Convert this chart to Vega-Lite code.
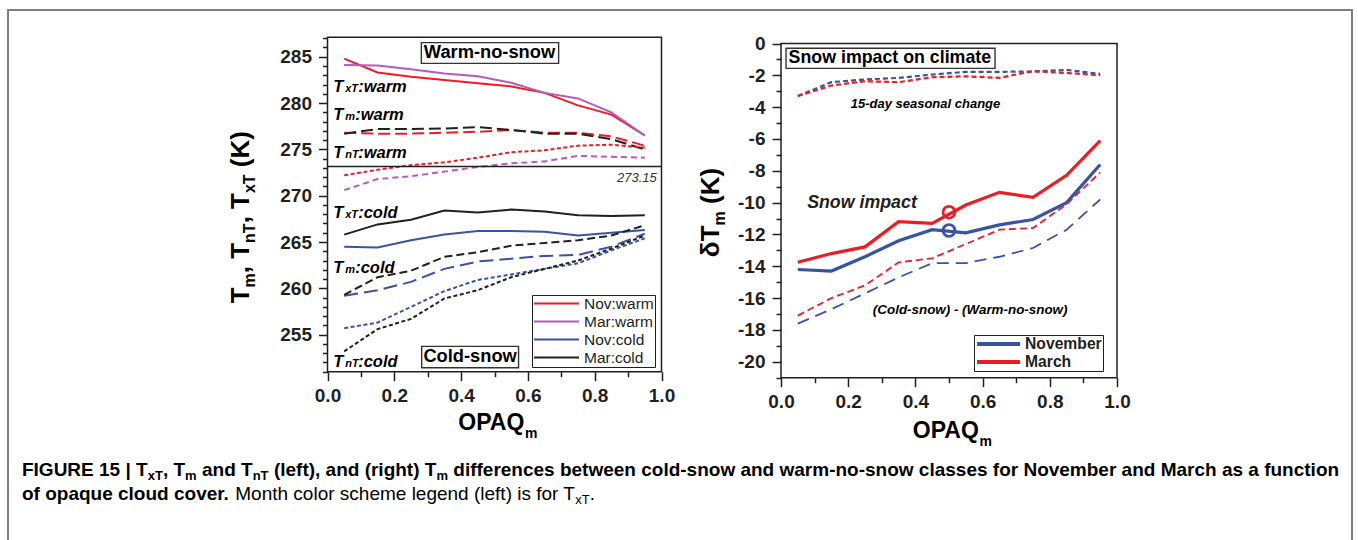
{
  "$schema": "https://vega.github.io/schema/vega-lite/v6.json",
  "background": "white",
  "autosize": {"type": "none"},
  "padding": {"left": 8, "top": 10, "right": 6, "bottom": 0},
  "width": 1344,
  "height": 535,
  "config": {
    "view": {"stroke": "#808080", "strokeWidth": 2},
    "axis": {"domain": false, "grid": false, "tickColor": "#231f20", "tickWidth": 1.5, "labelFont": "Liberation Sans", "labelFontWeight": "bold", "labelFontSize": 19, "labelColor": "#231f20", "labelFlush": false, "labelOverlap": false},
    "style": {
      "lb": {"font": "Liberation Sans", "fontWeight": "bold", "fontStyle": "italic", "fontSize": 16.5, "fill": "#231f20", "align": "left", "baseline": "alphabetic"},
      "lbs": {"font": "Liberation Sans", "fontWeight": "bold", "fontStyle": "italic", "fontSize": 11, "fill": "#231f20", "align": "left", "baseline": "alphabetic"},
      "bt": {"font": "Liberation Sans", "fontWeight": "bold", "fontSize": 18.3, "fill": "#231f20", "align": "center", "baseline": "middle"},
      "note": {"font": "Liberation Sans", "fontWeight": "bold", "fontStyle": "italic", "fontSize": 13, "fill": "#333333", "align": "center", "baseline": "middle"},
      "tt": {"font": "Liberation Sans", "fontWeight": "bold", "fontSize": 26, "fill": "#231f20", "align": "left", "baseline": "alphabetic", "angle": 270},
      "tts": {"font": "Liberation Sans", "fontWeight": "bold", "fontSize": 16, "fill": "#231f20", "align": "left", "baseline": "alphabetic", "angle": 270},
      "xt": {"font": "Liberation Sans", "fontWeight": "bold", "fontSize": 23, "fill": "#231f20", "align": "right", "baseline": "alphabetic"},
      "xts": {"font": "Liberation Sans", "fontWeight": "bold", "fontSize": 14, "fill": "#231f20", "align": "left", "baseline": "alphabetic"},
      "cp": {"font": "Liberation Sans", "fontWeight": "bold", "fontSize": 19, "fill": "#231f20", "align": "left", "baseline": "alphabetic"},
      "cps": {"font": "Liberation Sans", "fontWeight": "bold", "fontSize": 13, "fill": "#231f20", "align": "left", "baseline": "alphabetic"},
      "cpn": {"font": "Liberation Sans", "fontWeight": "normal", "fontSize": 19, "fill": "#231f20", "align": "left", "baseline": "alphabetic"},
      "cpns": {"font": "Liberation Sans", "fontWeight": "normal", "fontSize": 13, "fill": "#231f20", "align": "left", "baseline": "alphabetic"}
    }
  },
  "datasets": {
    "temps": [
      {"x": 0.05, "v": 284.8, "s": "TxT", "g": "Nov:warm"}, {"x": 0.15, "v": 283.3, "s": "TxT", "g": "Nov:warm"}, {"x": 0.25, "v": 282.85, "s": "TxT", "g": "Nov:warm"}, {"x": 0.35, "v": 282.5, "s": "TxT", "g": "Nov:warm"}, {"x": 0.45, "v": 282.15, "s": "TxT", "g": "Nov:warm"}, {"x": 0.55, "v": 281.8, "s": "TxT", "g": "Nov:warm"}, {"x": 0.65, "v": 281.1, "s": "TxT", "g": "Nov:warm"}, {"x": 0.75, "v": 279.75, "s": "TxT", "g": "Nov:warm"}, {"x": 0.85, "v": 278.75, "s": "TxT", "g": "Nov:warm"}, {"x": 0.95, "v": 276.5, "s": "TxT", "g": "Nov:warm"},
      {"x": 0.05, "v": 284.1, "s": "TxT", "g": "Mar:warm"}, {"x": 0.15, "v": 284.05, "s": "TxT", "g": "Mar:warm"}, {"x": 0.25, "v": 283.65, "s": "TxT", "g": "Mar:warm"}, {"x": 0.35, "v": 283.2, "s": "TxT", "g": "Mar:warm"}, {"x": 0.45, "v": 282.9, "s": "TxT", "g": "Mar:warm"}, {"x": 0.55, "v": 282.2, "s": "TxT", "g": "Mar:warm"}, {"x": 0.65, "v": 281.1, "s": "TxT", "g": "Mar:warm"}, {"x": 0.75, "v": 280.5, "s": "TxT", "g": "Mar:warm"}, {"x": 0.85, "v": 279.0, "s": "TxT", "g": "Mar:warm"}, {"x": 0.95, "v": 276.5, "s": "TxT", "g": "Mar:warm"},
      {"x": 0.05, "v": 264.5, "s": "TxT", "g": "Nov:cold"}, {"x": 0.15, "v": 264.4, "s": "TxT", "g": "Nov:cold"}, {"x": 0.25, "v": 265.2, "s": "TxT", "g": "Nov:cold"}, {"x": 0.35, "v": 265.8, "s": "TxT", "g": "Nov:cold"}, {"x": 0.45, "v": 266.2, "s": "TxT", "g": "Nov:cold"}, {"x": 0.55, "v": 266.2, "s": "TxT", "g": "Nov:cold"}, {"x": 0.65, "v": 266.1, "s": "TxT", "g": "Nov:cold"}, {"x": 0.75, "v": 265.7, "s": "TxT", "g": "Nov:cold"}, {"x": 0.85, "v": 266.0, "s": "TxT", "g": "Nov:cold"}, {"x": 0.95, "v": 266.3, "s": "TxT", "g": "Nov:cold"},
      {"x": 0.05, "v": 265.8, "s": "TxT", "g": "Mar:cold"}, {"x": 0.15, "v": 266.9, "s": "TxT", "g": "Mar:cold"}, {"x": 0.25, "v": 267.4, "s": "TxT", "g": "Mar:cold"}, {"x": 0.35, "v": 268.4, "s": "TxT", "g": "Mar:cold"}, {"x": 0.45, "v": 268.2, "s": "TxT", "g": "Mar:cold"}, {"x": 0.55, "v": 268.5, "s": "TxT", "g": "Mar:cold"}, {"x": 0.65, "v": 268.3, "s": "TxT", "g": "Mar:cold"}, {"x": 0.75, "v": 267.9, "s": "TxT", "g": "Mar:cold"}, {"x": 0.85, "v": 267.8, "s": "TxT", "g": "Mar:cold"}, {"x": 0.95, "v": 267.9, "s": "TxT", "g": "Mar:cold"},
      {"x": 0.05, "v": 276.8, "s": "Tm", "g": "Nov:warm"}, {"x": 0.15, "v": 276.7, "s": "Tm", "g": "Nov:warm"}, {"x": 0.25, "v": 276.7, "s": "Tm", "g": "Nov:warm"}, {"x": 0.35, "v": 276.8, "s": "Tm", "g": "Nov:warm"}, {"x": 0.45, "v": 276.9, "s": "Tm", "g": "Nov:warm"}, {"x": 0.55, "v": 277.1, "s": "Tm", "g": "Nov:warm"}, {"x": 0.65, "v": 276.8, "s": "Tm", "g": "Nov:warm"}, {"x": 0.75, "v": 276.8, "s": "Tm", "g": "Nov:warm"}, {"x": 0.85, "v": 276.4, "s": "Tm", "g": "Nov:warm"}, {"x": 0.95, "v": 275.4, "s": "Tm", "g": "Nov:warm"},
      {"x": 0.05, "v": 276.7, "s": "Tm", "g": "Mar:warm"}, {"x": 0.15, "v": 277.2, "s": "Tm", "g": "Mar:warm"}, {"x": 0.25, "v": 277.2, "s": "Tm", "g": "Mar:warm"}, {"x": 0.35, "v": 277.25, "s": "Tm", "g": "Mar:warm"}, {"x": 0.45, "v": 277.4, "s": "Tm", "g": "Mar:warm"}, {"x": 0.55, "v": 277.1, "s": "Tm", "g": "Mar:warm"}, {"x": 0.65, "v": 276.7, "s": "Tm", "g": "Mar:warm"}, {"x": 0.75, "v": 276.7, "s": "Tm", "g": "Mar:warm"}, {"x": 0.85, "v": 276.1, "s": "Tm", "g": "Mar:warm"}, {"x": 0.95, "v": 275.0, "s": "Tm", "g": "Mar:warm"},
      {"x": 0.05, "v": 259.2, "s": "Tm", "g": "Nov:cold"}, {"x": 0.15, "v": 259.8, "s": "Tm", "g": "Nov:cold"}, {"x": 0.25, "v": 260.7, "s": "Tm", "g": "Nov:cold"}, {"x": 0.35, "v": 262.1, "s": "Tm", "g": "Nov:cold"}, {"x": 0.45, "v": 262.9, "s": "Tm", "g": "Nov:cold"}, {"x": 0.55, "v": 263.2, "s": "Tm", "g": "Nov:cold"}, {"x": 0.65, "v": 263.5, "s": "Tm", "g": "Nov:cold"}, {"x": 0.75, "v": 263.6, "s": "Tm", "g": "Nov:cold"}, {"x": 0.85, "v": 264.5, "s": "Tm", "g": "Nov:cold"}, {"x": 0.95, "v": 265.9, "s": "Tm", "g": "Nov:cold"},
      {"x": 0.05, "v": 259.3, "s": "Tm", "g": "Mar:cold"}, {"x": 0.15, "v": 261.2, "s": "Tm", "g": "Mar:cold"}, {"x": 0.25, "v": 261.9, "s": "Tm", "g": "Mar:cold"}, {"x": 0.35, "v": 263.4, "s": "Tm", "g": "Mar:cold"}, {"x": 0.45, "v": 263.9, "s": "Tm", "g": "Mar:cold"}, {"x": 0.55, "v": 264.6, "s": "Tm", "g": "Mar:cold"}, {"x": 0.65, "v": 264.9, "s": "Tm", "g": "Mar:cold"}, {"x": 0.75, "v": 265.2, "s": "Tm", "g": "Mar:cold"}, {"x": 0.85, "v": 265.7, "s": "Tm", "g": "Mar:cold"}, {"x": 0.95, "v": 266.8, "s": "Tm", "g": "Mar:cold"},
      {"x": 0.05, "v": 272.2, "s": "TnT", "g": "Nov:warm"}, {"x": 0.15, "v": 272.8, "s": "TnT", "g": "Nov:warm"}, {"x": 0.25, "v": 273.3, "s": "TnT", "g": "Nov:warm"}, {"x": 0.35, "v": 273.6, "s": "TnT", "g": "Nov:warm"}, {"x": 0.45, "v": 274.1, "s": "TnT", "g": "Nov:warm"}, {"x": 0.55, "v": 274.7, "s": "TnT", "g": "Nov:warm"}, {"x": 0.65, "v": 274.9, "s": "TnT", "g": "Nov:warm"}, {"x": 0.75, "v": 275.4, "s": "TnT", "g": "Nov:warm"}, {"x": 0.85, "v": 275.5, "s": "TnT", "g": "Nov:warm"}, {"x": 0.95, "v": 275.2, "s": "TnT", "g": "Nov:warm"},
      {"x": 0.05, "v": 270.6, "s": "TnT", "g": "Mar:warm"}, {"x": 0.15, "v": 271.8, "s": "TnT", "g": "Mar:warm"}, {"x": 0.25, "v": 272.1, "s": "TnT", "g": "Mar:warm"}, {"x": 0.35, "v": 272.6, "s": "TnT", "g": "Mar:warm"}, {"x": 0.45, "v": 273.1, "s": "TnT", "g": "Mar:warm"}, {"x": 0.55, "v": 273.5, "s": "TnT", "g": "Mar:warm"}, {"x": 0.65, "v": 273.7, "s": "TnT", "g": "Mar:warm"}, {"x": 0.75, "v": 274.3, "s": "TnT", "g": "Mar:warm"}, {"x": 0.85, "v": 274.2, "s": "TnT", "g": "Mar:warm"}, {"x": 0.95, "v": 274.1, "s": "TnT", "g": "Mar:warm"},
      {"x": 0.05, "v": 255.7, "s": "TnT", "g": "Nov:cold"}, {"x": 0.15, "v": 256.3, "s": "TnT", "g": "Nov:cold"}, {"x": 0.25, "v": 258.0, "s": "TnT", "g": "Nov:cold"}, {"x": 0.35, "v": 259.7, "s": "TnT", "g": "Nov:cold"}, {"x": 0.45, "v": 260.9, "s": "TnT", "g": "Nov:cold"}, {"x": 0.55, "v": 261.5, "s": "TnT", "g": "Nov:cold"}, {"x": 0.65, "v": 262.1, "s": "TnT", "g": "Nov:cold"}, {"x": 0.75, "v": 262.7, "s": "TnT", "g": "Nov:cold"}, {"x": 0.85, "v": 264.1, "s": "TnT", "g": "Nov:cold"}, {"x": 0.95, "v": 265.4, "s": "TnT", "g": "Nov:cold"},
      {"x": 0.05, "v": 253.2, "s": "TnT", "g": "Mar:cold"}, {"x": 0.15, "v": 255.6, "s": "TnT", "g": "Mar:cold"}, {"x": 0.25, "v": 256.7, "s": "TnT", "g": "Mar:cold"}, {"x": 0.35, "v": 258.9, "s": "TnT", "g": "Mar:cold"}, {"x": 0.45, "v": 259.8, "s": "TnT", "g": "Mar:cold"}, {"x": 0.55, "v": 261.2, "s": "TnT", "g": "Mar:cold"}, {"x": 0.65, "v": 262.1, "s": "TnT", "g": "Mar:cold"}, {"x": 0.75, "v": 263.0, "s": "TnT", "g": "Mar:cold"}, {"x": 0.85, "v": 264.3, "s": "TnT", "g": "Mar:cold"}, {"x": 0.95, "v": 265.7, "s": "TnT", "g": "Mar:cold"}
    ],
    "deltas": [
      {"x": 0.05, "v": -3.3, "k": "seasonal", "m": "November"}, {"x": 0.15, "v": -2.43, "k": "seasonal", "m": "November"}, {"x": 0.25, "v": -2.26, "k": "seasonal", "m": "November"}, {"x": 0.35, "v": -2.16, "k": "seasonal", "m": "November"}, {"x": 0.45, "v": -1.95, "k": "seasonal", "m": "November"}, {"x": 0.55, "v": -1.78, "k": "seasonal", "m": "November"}, {"x": 0.65, "v": -1.78, "k": "seasonal", "m": "November"}, {"x": 0.75, "v": -1.76, "k": "seasonal", "m": "November"}, {"x": 0.85, "v": -1.66, "k": "seasonal", "m": "November"}, {"x": 0.95, "v": -1.91, "k": "seasonal", "m": "November"},
      {"x": 0.05, "v": -3.3, "k": "seasonal", "m": "March"}, {"x": 0.15, "v": -2.64, "k": "seasonal", "m": "March"}, {"x": 0.25, "v": -2.37, "k": "seasonal", "m": "March"}, {"x": 0.35, "v": -2.43, "k": "seasonal", "m": "March"}, {"x": 0.45, "v": -2.12, "k": "seasonal", "m": "March"}, {"x": 0.55, "v": -2.06, "k": "seasonal", "m": "March"}, {"x": 0.65, "v": -2.16, "k": "seasonal", "m": "March"}, {"x": 0.75, "v": -1.74, "k": "seasonal", "m": "March"}, {"x": 0.85, "v": -1.85, "k": "seasonal", "m": "March"}, {"x": 0.95, "v": -1.99, "k": "seasonal", "m": "March"},
      {"x": 0.05, "v": -14.2, "k": "impact", "m": "November"}, {"x": 0.15, "v": -14.3, "k": "impact", "m": "November"}, {"x": 0.25, "v": -13.4, "k": "impact", "m": "November"}, {"x": 0.35, "v": -12.4, "k": "impact", "m": "November"}, {"x": 0.45, "v": -11.7, "k": "impact", "m": "November"}, {"x": 0.55, "v": -11.9, "k": "impact", "m": "November"}, {"x": 0.65, "v": -11.4, "k": "impact", "m": "November"}, {"x": 0.75, "v": -11.06, "k": "impact", "m": "November"}, {"x": 0.85, "v": -10.0, "k": "impact", "m": "November"}, {"x": 0.95, "v": -7.6, "k": "impact", "m": "November"},
      {"x": 0.05, "v": -13.75, "k": "impact", "m": "March"}, {"x": 0.15, "v": -13.2, "k": "impact", "m": "March"}, {"x": 0.25, "v": -12.78, "k": "impact", "m": "March"}, {"x": 0.35, "v": -11.2, "k": "impact", "m": "March"}, {"x": 0.45, "v": -11.3, "k": "impact", "m": "March"}, {"x": 0.55, "v": -10.15, "k": "impact", "m": "March"}, {"x": 0.65, "v": -9.35, "k": "impact", "m": "March"}, {"x": 0.75, "v": -9.67, "k": "impact", "m": "March"}, {"x": 0.85, "v": -8.28, "k": "impact", "m": "March"}, {"x": 0.95, "v": -6.1, "k": "impact", "m": "March"},
      {"x": 0.05, "v": -17.6, "k": "diff", "m": "November"}, {"x": 0.15, "v": -16.7, "k": "diff", "m": "November"}, {"x": 0.25, "v": -15.7, "k": "diff", "m": "November"}, {"x": 0.35, "v": -14.7, "k": "diff", "m": "November"}, {"x": 0.45, "v": -13.8, "k": "diff", "m": "November"}, {"x": 0.55, "v": -13.8, "k": "diff", "m": "November"}, {"x": 0.65, "v": -13.4, "k": "diff", "m": "November"}, {"x": 0.75, "v": -12.85, "k": "diff", "m": "November"}, {"x": 0.85, "v": -11.7, "k": "diff", "m": "November"}, {"x": 0.95, "v": -9.8, "k": "diff", "m": "November"},
      {"x": 0.05, "v": -17.1, "k": "diff", "m": "March"}, {"x": 0.15, "v": -16.0, "k": "diff", "m": "March"}, {"x": 0.25, "v": -15.2, "k": "diff", "m": "March"}, {"x": 0.35, "v": -13.75, "k": "diff", "m": "March"}, {"x": 0.45, "v": -13.5, "k": "diff", "m": "March"}, {"x": 0.55, "v": -12.6, "k": "diff", "m": "March"}, {"x": 0.65, "v": -11.7, "k": "diff", "m": "March"}, {"x": 0.75, "v": -11.6, "k": "diff", "m": "March"}, {"x": 0.85, "v": -10.1, "k": "diff", "m": "March"}, {"x": 0.95, "v": -8.1, "k": "diff", "m": "March"},
      {"x": 0.5, "v": -11.75, "k": "circle", "m": "November"}, {"x": 0.5, "v": -10.6, "k": "circle", "m": "March"}
    ]
  },
  "resolve": {"scale": {"x": "independent", "y": "independent", "color": "independent", "strokeDash": "independent"}, "axis": {"x": "independent", "y": "independent"}, "legend": {"color": "independent"}},
  "layer": [
    {
      "data": {"name": "temps"},
      "resolve": {"scale": {"color": "independent", "strokeDash": "independent"}, "axis": {"x": "independent", "y": "independent"}},
      "layer": [
        {
          "transform": [{"filter": "datum.s == 'TxT'"}],
          "mark": {"type": "line", "strokeWidth": 2},
          "encoding": {
            "x": {"field": "x", "type": "quantitative", "scale": {"domain": [0, 1], "range": [319.5, 653.5], "nice": false, "zero": false}, "axis": {"orient": "bottom", "offset": -173.3, "values": [0, 0.2, 0.4, 0.6, 0.8, 1], "format": ".1f", "tickSize": 9, "labelPadding": 6, "title": null}},
            "y": {"field": "v", "type": "quantitative", "scale": {"domain": [251, 287.1], "range": [361.7, 27.3], "nice": false, "zero": false}, "axis": {"orient": "left", "offset": -319.5, "values": [255, 260, 265, 270, 275, 280, 285], "format": "d", "tickSize": 9, "labelPadding": 7, "title": null}},
            "color": {"field": "g", "type": "nominal", "scale": {"domain": ["Nov:warm", "Mar:warm", "Nov:cold", "Mar:cold"], "range": ["#ed1c24", "#b65bb8", "#3953a4", "#231f20"]},
              "legend": {"orient": "none", "legendX": 524, "legendY": 285, "title": null, "symbolType": "stroke", "symbolSize": 2025, "symbolStrokeWidth": 2, "clipHeight": 15, "rowPadding": 2, "padding": 1, "labelFont": "Liberation Sans", "labelFontSize": 15.5, "labelColor": "#231f20", "labelOffset": 4, "labelLimit": 0, "strokeColor": "#231f20", "fillColor": "#ffffff"}}
          }
        },
        {
          "data": {"values": [{}]},
          "mark": {"type": "rule", "opacity": 0},
          "encoding": {
            "x": {"datum": 0.5, "type": "quantitative", "axis": {"orient": "bottom", "offset": -173.3, "values": [0.1, 0.3, 0.5, 0.7, 0.9], "labels": false, "tickSize": 5, "title": null}},
            "y": {"datum": 270, "type": "quantitative", "axis": {"orient": "left", "offset": -319.5, "values": [251, 252, 253, 254, 256, 257, 258, 259, 261, 262, 263, 264, 266, 267, 268, 269, 271, 272, 273, 274, 276, 277, 278, 279, 281, 282, 283, 284, 286, 287], "labels": false, "tickSize": 5, "title": null}}
          }
        },
        {
          "transform": [{"filter": "datum.s == 'Tm'"}],
          "mark": {"type": "line", "strokeWidth": 2},
          "encoding": {
            "x": {"field": "x", "type": "quantitative", "axis": null},
            "y": {"field": "v", "type": "quantitative", "axis": null},
            "color": {"field": "g", "type": "nominal", "scale": {"domain": ["Nov:warm", "Mar:warm", "Nov:cold", "Mar:cold"], "range": ["#ed1c24", "#231f20", "#3953a4", "#231f20"]}, "legend": null},
            "strokeDash": {"field": "g", "type": "nominal", "scale": {"domain": ["Nov:warm", "Mar:warm", "Nov:cold", "Mar:cold"], "range": [[12, 5], [12, 5], [14, 6], [8, 4]]}, "legend": null}
          }
        },
        {
          "transform": [{"filter": "datum.s == 'TnT'"}],
          "mark": {"type": "line", "strokeWidth": 2},
          "encoding": {
            "x": {"field": "x", "type": "quantitative", "axis": null},
            "y": {"field": "v", "type": "quantitative", "axis": null},
            "color": {"field": "g", "type": "nominal", "scale": {"domain": ["Nov:warm", "Mar:warm", "Nov:cold", "Mar:cold"], "range": ["#ed1c24", "#b65bb8", "#3953a4", "#231f20"]}, "legend": null},
            "strokeDash": {"field": "g", "type": "nominal", "scale": {"domain": ["Nov:warm", "Mar:warm", "Nov:cold", "Mar:cold"], "range": [[4, 2.5], [6, 4], [4, 2.5], [4, 2.5]]}, "legend": null}
          }
        },
        {"data": {"values": [{}]}, "mark": {"type": "rule", "color": "#231f20", "strokeWidth": 1.5},
          "encoding": {"x": {"datum": 0, "type": "quantitative", "axis": null}, "x2": {"datum": 1}, "y": {"datum": 273.15, "type": "quantitative", "axis": null}}},
        {"data": {"values": [{}]}, "mark": {"type": "text", "text": "273.15", "font": "Liberation Sans", "fontStyle": "italic", "fontSize": 13, "fill": "#333333", "align": "right", "baseline": "alphabetic"},
          "encoding": {"x": {"datum": 0.986, "type": "quantitative", "axis": null}, "y": {"datum": 271.49, "type": "quantitative", "axis": null}}},
        {"data": {"values": [{}]}, "mark": {"type": "rect", "fill": "#ffffff", "fillOpacity": 1, "stroke": "#333333", "strokeWidth": 1.4},
          "encoding": {"x": {"datum": 0.281, "type": "quantitative", "axis": null}, "x2": {"datum": 0.692}, "y": {"datum": 286.52, "type": "quantitative", "axis": null}, "y2": {"datum": 284.29}}},
        {"data": {"values": [{}]}, "mark": {"type": "text", "style": "bt", "text": "Warm-no-snow"},
          "encoding": {"x": {"datum": 0.485, "type": "quantitative", "axis": null}, "y": {"datum": 285.4, "type": "quantitative", "axis": null}}},
        {"data": {"values": [{}]}, "mark": {"type": "rect", "fill": "#ffffff", "fillOpacity": 1, "stroke": "#333333", "strokeWidth": 1.4},
          "encoding": {"x": {"datum": 0.282, "type": "quantitative", "axis": null}, "x2": {"datum": 0.572}, "y": {"datum": 253.73, "type": "quantitative", "axis": null}, "y2": {"datum": 251.43}}},
        {"data": {"values": [{}]}, "mark": {"type": "text", "style": "bt", "text": "Cold-snow"},
          "encoding": {"x": {"datum": 0.427, "type": "quantitative", "axis": null}, "y": {"datum": 252.6, "type": "quantitative", "axis": null}}},
        {
          "data": {"values": [{}]},
          "encoding": {"x": {"datum": 0.017, "type": "quantitative", "axis": null}, "y": {"datum": 281.24, "type": "quantitative", "axis": null}},
          "layer": [
            {"mark": {"type": "text", "style": "lb", "text": "T"}},
            {"mark": {"type": "text", "style": "lbs", "text": "xT", "dx": 12}},
            {"mark": {"type": "text", "style": "lb", "text": ":warm", "dx": 25}}
          ]
        },
        {
          "data": {"values": [{}]},
          "encoding": {"x": {"datum": 0.017, "type": "quantitative", "axis": null}, "y": {"datum": 278.16, "type": "quantitative", "axis": null}},
          "layer": [
            {"mark": {"type": "text", "style": "lb", "text": "T"}},
            {"mark": {"type": "text", "style": "lbs", "text": "m", "dx": 12}},
            {"mark": {"type": "text", "style": "lb", "text": ":warm", "dx": 22}}
          ]
        },
        {
          "data": {"values": [{}]},
          "encoding": {"x": {"datum": 0.017, "type": "quantitative", "axis": null}, "y": {"datum": 274.02, "type": "quantitative", "axis": null}},
          "layer": [
            {"mark": {"type": "text", "style": "lb", "text": "T"}},
            {"mark": {"type": "text", "style": "lbs", "text": "nT", "dx": 12}},
            {"mark": {"type": "text", "style": "lb", "text": ":warm", "dx": 25}}
          ]
        },
        {
          "data": {"values": [{}]},
          "encoding": {"x": {"datum": 0.017, "type": "quantitative", "axis": null}, "y": {"datum": 267.54, "type": "quantitative", "axis": null}},
          "layer": [
            {"mark": {"type": "text", "style": "lb", "text": "T"}},
            {"mark": {"type": "text", "style": "lbs", "text": "xT", "dx": 12}},
            {"mark": {"type": "text", "style": "lb", "text": ":cold", "dx": 25}}
          ]
        },
        {
          "data": {"values": [{}]},
          "encoding": {"x": {"datum": 0.017, "type": "quantitative", "axis": null}, "y": {"datum": 261.66, "type": "quantitative", "axis": null}},
          "layer": [
            {"mark": {"type": "text", "style": "lb", "text": "T"}},
            {"mark": {"type": "text", "style": "lbs", "text": "m", "dx": 12}},
            {"mark": {"type": "text", "style": "lb", "text": ":cold", "dx": 22}}
          ]
        },
        {
          "data": {"values": [{}]},
          "encoding": {"x": {"datum": 0.017, "type": "quantitative", "axis": null}, "y": {"datum": 251.5, "type": "quantitative", "axis": null}},
          "layer": [
            {"mark": {"type": "text", "style": "lb", "text": "T"}},
            {"mark": {"type": "text", "style": "lbs", "text": "nT", "dx": 12}},
            {"mark": {"type": "text", "style": "lb", "text": ":cold", "dx": 25}}
          ]
        },
        {
          "data": {"values": [{}]},
          "encoding": {"x": {"datum": 0, "type": "quantitative", "axis": null}, "y": {"datum": 258.38, "type": "quantitative", "axis": null}},
          "layer": [
            {"mark": {"type": "text", "style": "tt", "text": "T", "dy": -78.5}},
            {"mark": {"type": "text", "style": "tts", "text": "m", "dx": 15.9, "dy": -73}},
            {"mark": {"type": "text", "style": "tt", "text": ", T", "dx": 30.1, "dy": -78.5}},
            {"mark": {"type": "text", "style": "tts", "text": "nT", "dx": 60.4, "dy": -73}},
            {"mark": {"type": "text", "style": "tt", "text": ", T", "dx": 80.0, "dy": -78.5}},
            {"mark": {"type": "text", "style": "tts", "text": "xT", "dx": 110.3, "dy": -73}},
            {"mark": {"type": "text", "style": "tt", "text": "(K)", "dx": 136.2, "dy": -78.5}}
          ]
        },
        {
          "data": {"values": [{}]},
          "encoding": {"x": {"datum": 0.5, "type": "quantitative", "axis": null}, "y": {"datum": 251, "type": "quantitative", "axis": null}},
          "layer": [
            {"mark": {"type": "text", "style": "xt", "text": "OPAQ", "dx": 29.8, "dy": 58}},
            {"mark": {"type": "text", "style": "xts", "text": "m", "dx": 30.5, "dy": 66}}
          ]
        },
        {"data": {"values": [{}]}, "mark": {"type": "rect", "fillOpacity": 0, "stroke": "#231f20", "strokeWidth": 1.5},
          "encoding": {"x": {"datum": 0, "type": "quantitative", "axis": null}, "x2": {"datum": 1}, "y": {"datum": 251, "type": "quantitative", "axis": null}, "y2": {"datum": 287.1}}}
      ]
    },
    {
      "data": {"name": "deltas"},
      "resolve": {"scale": {"strokeDash": "independent"}, "axis": {"x": "independent", "y": "independent"}},
      "layer": [
        {
          "transform": [{"filter": "datum.k == 'impact'"}],
          "mark": {"type": "line", "strokeWidth": 3.2},
          "encoding": {
            "x": {"field": "x", "type": "quantitative", "scale": {"domain": [0, 1], "range": [773, 1109], "nice": false, "zero": false}, "axis": {"orient": "bottom", "offset": -167.3, "values": [0, 0.2, 0.4, 0.6, 0.8, 1], "format": ".1f", "tickSize": 9, "labelPadding": 6, "title": null}},
            "y": {"field": "v", "type": "quantitative", "scale": {"domain": [-21, 0], "range": [367.7, 33.5], "nice": false, "zero": false}, "axis": {"orient": "left", "offset": -773, "values": [-20, -18, -16, -14, -12, -10, -8, -6, -4, -2, 0], "labelExpr": "datum.value + ''", "tickSize": 9, "labelPadding": 7, "title": null}},
            "color": {"field": "m", "type": "nominal", "scale": {"domain": ["November", "March"], "range": ["#3953a4", "#ed1c24"]},
              "legend": {"orient": "none", "legendX": 966, "legendY": 325, "title": null, "symbolType": "stroke", "symbolSize": 1849, "symbolStrokeWidth": 4, "clipHeight": 16, "rowPadding": 2, "padding": 1, "labelFont": "Liberation Sans", "labelFontWeight": "bold", "labelFontSize": 15.7, "labelColor": "#231f20", "labelOffset": 3, "labelLimit": 0, "strokeColor": "#231f20", "fillColor": "#ffffff"}}
          }
        },
        {
          "data": {"values": [{}]},
          "mark": {"type": "rule", "opacity": 0},
          "encoding": {
            "x": {"datum": 0.5, "type": "quantitative", "axis": {"orient": "bottom", "offset": -167.3, "values": [0.1, 0.3, 0.5, 0.7, 0.9], "labels": false, "tickSize": 5, "title": null}},
            "y": {"datum": -10, "type": "quantitative", "axis": {"orient": "left", "offset": -773, "values": [-21, -19, -17, -15, -13, -11, -9, -7, -5, -3, -1], "labels": false, "tickSize": 5, "title": null}}
          }
        },
        {
          "transform": [{"filter": "datum.k == 'seasonal'"}],
          "mark": {"type": "line", "strokeWidth": 2.2, "strokeDash": [5, 3]},
          "encoding": {
            "x": {"field": "x", "type": "quantitative", "axis": null},
            "y": {"field": "v", "type": "quantitative", "axis": null},
            "color": {"field": "m", "type": "nominal", "legend": null}
          }
        },
        {
          "transform": [{"filter": "datum.k == 'diff'"}],
          "mark": {"type": "line", "strokeWidth": 1.8},
          "encoding": {
            "x": {"field": "x", "type": "quantitative", "axis": null},
            "y": {"field": "v", "type": "quantitative", "axis": null},
            "color": {"field": "m", "type": "nominal", "legend": null},
            "strokeDash": {"field": "m", "type": "nominal", "scale": {"domain": ["November", "March"], "range": [[12, 7], [7, 4]]}, "legend": null}
          }
        },
        {
          "transform": [{"filter": "datum.k == 'circle'"}],
          "mark": {"type": "point", "shape": "circle", "filled": false, "size": 140, "strokeWidth": 2.8, "opacity": 1},
          "encoding": {
            "x": {"field": "x", "type": "quantitative", "axis": null},
            "y": {"field": "v", "type": "quantitative", "axis": null},
            "color": {"field": "m", "type": "nominal", "legend": null}
          }
        },
        {"data": {"values": [{}]}, "mark": {"type": "rect", "fill": "#ffffff", "fillOpacity": 1, "stroke": "#333333", "strokeWidth": 1.4},
          "encoding": {"x": {"datum": 0.015, "type": "quantitative", "axis": null}, "x2": {"datum": 0.637}, "y": {"datum": -0.3, "type": "quantitative", "axis": null}, "y2": {"datum": -1.56}}},
        {"data": {"values": [{}]}, "mark": {"type": "text", "style": "bt", "fontSize": 17.8, "text": "Snow impact on climate"},
          "encoding": {"x": {"datum": 0.324, "type": "quantitative", "axis": null}, "y": {"datum": -0.93, "type": "quantitative", "axis": null}}},
        {"data": {"values": [{}]}, "mark": {"type": "text", "style": "note", "text": "15-day seasonal change"},
          "encoding": {"x": {"datum": 0.43, "type": "quantitative", "axis": null}, "y": {"datum": -3.8, "type": "quantitative", "axis": null}}},
        {"data": {"values": [{}]}, "mark": {"type": "text", "style": "note", "fontSize": 17.8, "fill": "#231f20", "text": "Snow impact"},
          "encoding": {"x": {"datum": 0.241, "type": "quantitative", "axis": null}, "y": {"datum": -10.05, "type": "quantitative", "axis": null}}},
        {"data": {"values": [{}]}, "mark": {"type": "text", "style": "note", "fontSize": 13.4, "text": "(Cold-snow) - (Warm-no-snow)"},
          "encoding": {"x": {"datum": 0.563, "type": "quantitative", "axis": null}, "y": {"datum": -16.72, "type": "quantitative", "axis": null}}},
        {
          "data": {"values": [{}]},
          "encoding": {"x": {"datum": 0, "type": "quantitative", "axis": null}, "y": {"datum": -13.43, "type": "quantitative", "axis": null}},
          "layer": [
            {"mark": {"type": "text", "style": "tt", "text": "δ", "dy": -62}},
            {"mark": {"type": "text", "style": "tt", "text": "T", "dx": 15.9, "dy": -62}},
            {"mark": {"type": "text", "style": "tts", "text": "m", "dx": 31.8, "dy": -56.5}},
            {"mark": {"type": "text", "style": "tt", "text": "(K)", "dx": 53.2, "dy": -62}}
          ]
        },
        {
          "data": {"values": [{}]},
          "encoding": {"x": {"datum": 0.5, "type": "quantitative", "axis": null}, "y": {"datum": -21, "type": "quantitative", "axis": null}},
          "layer": [
            {"mark": {"type": "text", "style": "xt", "text": "OPAQ", "dx": 29.8, "dy": 60.6}},
            {"mark": {"type": "text", "style": "xts", "text": "m", "dx": 30.5, "dy": 68.6}}
          ]
        },
        {"data": {"values": [{}]}, "mark": {"type": "rect", "fillOpacity": 0, "stroke": "#231f20", "strokeWidth": 1.5},
          "encoding": {"x": {"datum": 0, "type": "quantitative", "axis": null}, "x2": {"datum": 1}, "y": {"datum": -21, "type": "quantitative", "axis": null}, "y2": {"datum": 0}}}
      ]
    },
    {
      "data": {"values": [{}]},
      "encoding": {
        "x": {"datum": 0.0104, "type": "quantitative", "scale": {"domain": [0, 1], "range": [0, 1344], "nice": false, "zero": false}, "axis": null},
        "y": {"datum": 0.871, "type": "quantitative", "scale": {"domain": [0, 1], "range": [0, 535], "nice": false, "zero": false}, "axis": null}
      },
      "layer": [
        {"mark": {"type": "text", "style": "cp", "text": "FIGURE 15 | T"}},
        {"mark": {"type": "text", "style": "cps", "text": "xT", "dx": 125.7, "dy": 4}},
        {"mark": {"type": "text", "style": "cp", "text": ", T", "dx": 140.9}},
        {"mark": {"type": "text", "style": "cps", "text": "m", "dx": 163.1, "dy": 4}},
        {"mark": {"type": "text", "style": "cp", "text": "and T", "dx": 180.0}},
        {"mark": {"type": "text", "style": "cps", "text": "nT", "dx": 230.7, "dy": 4}},
        {"mark": {"type": "text", "style": "cp", "text": "(left), and (right) T", "dx": 251.9}},
        {"mark": {"type": "text", "style": "cps", "text": "m", "dx": 414.4, "dy": 4}},
        {"mark": {"type": "text", "style": "cp", "text": "differences between cold-snow and warm-no-snow classes for November and March as a function", "dx": 431.3}},
        {"mark": {"type": "text", "style": "cp", "text": "of opaque cloud cover."}, "encoding": {"y": {"datum": 0.916, "type": "quantitative"}}},
        {"mark": {"type": "text", "style": "cpn", "text": "Month color scheme legend (left) is for T", "dx": 213.3}, "encoding": {"y": {"datum": 0.916, "type": "quantitative"}}},
        {"mark": {"type": "text", "style": "cpns", "text": "xT", "dx": 553.3, "dy": 4}, "encoding": {"y": {"datum": 0.916, "type": "quantitative"}}},
        {"mark": {"type": "text", "style": "cpn", "text": ".", "dx": 567.7}, "encoding": {"y": {"datum": 0.916, "type": "quantitative"}}}
      ]
    }
  ]
}
